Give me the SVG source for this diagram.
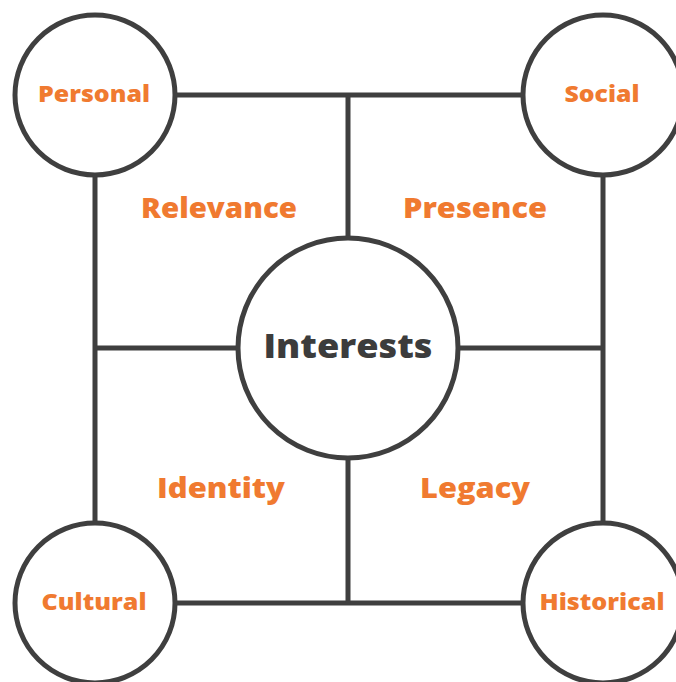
<svg xmlns="http://www.w3.org/2000/svg" width="676" height="682" viewBox="0 0 676 682">
<style>
.ln{stroke:#3f3f3f;stroke-width:5;fill:none}
.c{stroke:#3f3f3f;stroke-width:5;fill:#fff}
.o{fill:#F07a30;font-family:"Open Sans",Lato,sans-serif;font-weight:800;text-anchor:middle}
.s{font-size:22px}
.m{font-size:28px}
.i{fill:#3c3c3c;font-family:"Open Sans",Lato,sans-serif;font-weight:800;font-size:33px;text-anchor:middle}
</style>
<rect width="676" height="682" fill="#fff"/>
<g id="connectors">
<line class="ln" x1="95" y1="95" x2="603" y2="95"/>
<line class="ln" x1="95" y1="603" x2="603" y2="603"/>
<line class="ln" x1="95" y1="95" x2="95" y2="603"/>
<line class="ln" x1="603" y1="95" x2="603" y2="603"/>
<line class="ln" x1="348" y1="95" x2="348" y2="603"/>
<line class="ln" x1="95" y1="348" x2="603" y2="348"/>
</g>
<g id="personal"><circle class="c" cx="95" cy="95" r="80"/><text class="o s" x="94" y="102" textLength="112" lengthAdjust="spacingAndGlyphs">Personal</text></g>
<g id="social"><circle class="c" cx="603" cy="95" r="80"/><text class="o s" x="602" y="102" textLength="75" lengthAdjust="spacingAndGlyphs">Social</text></g>
<g id="cultural"><circle class="c" cx="95" cy="603" r="80"/><text class="o s" x="94" y="610" textLength="105" lengthAdjust="spacingAndGlyphs">Cultural</text></g>
<g id="historical"><circle class="c" cx="603" cy="603" r="80"/><text class="o s" x="602" y="610" textLength="125" lengthAdjust="spacingAndGlyphs">Historical</text></g>
<g id="interests"><circle class="c" cx="348" cy="348" r="110"/><text class="i" x="348" y="358" textLength="169" lengthAdjust="spacingAndGlyphs">Interests</text></g>
<g id="relevance"><text class="o m" x="219" y="218" textLength="156" lengthAdjust="spacingAndGlyphs">Relevance</text></g>
<g id="presence"><text class="o m" x="475" y="218" textLength="144" lengthAdjust="spacingAndGlyphs">Presence</text></g>
<g id="identity"><text class="o m" x="221" y="498" textLength="128" lengthAdjust="spacingAndGlyphs">Identity</text></g>
<g id="legacy"><text class="o m" x="475" y="498" textLength="110" lengthAdjust="spacingAndGlyphs">Legacy</text></g>
</svg>
